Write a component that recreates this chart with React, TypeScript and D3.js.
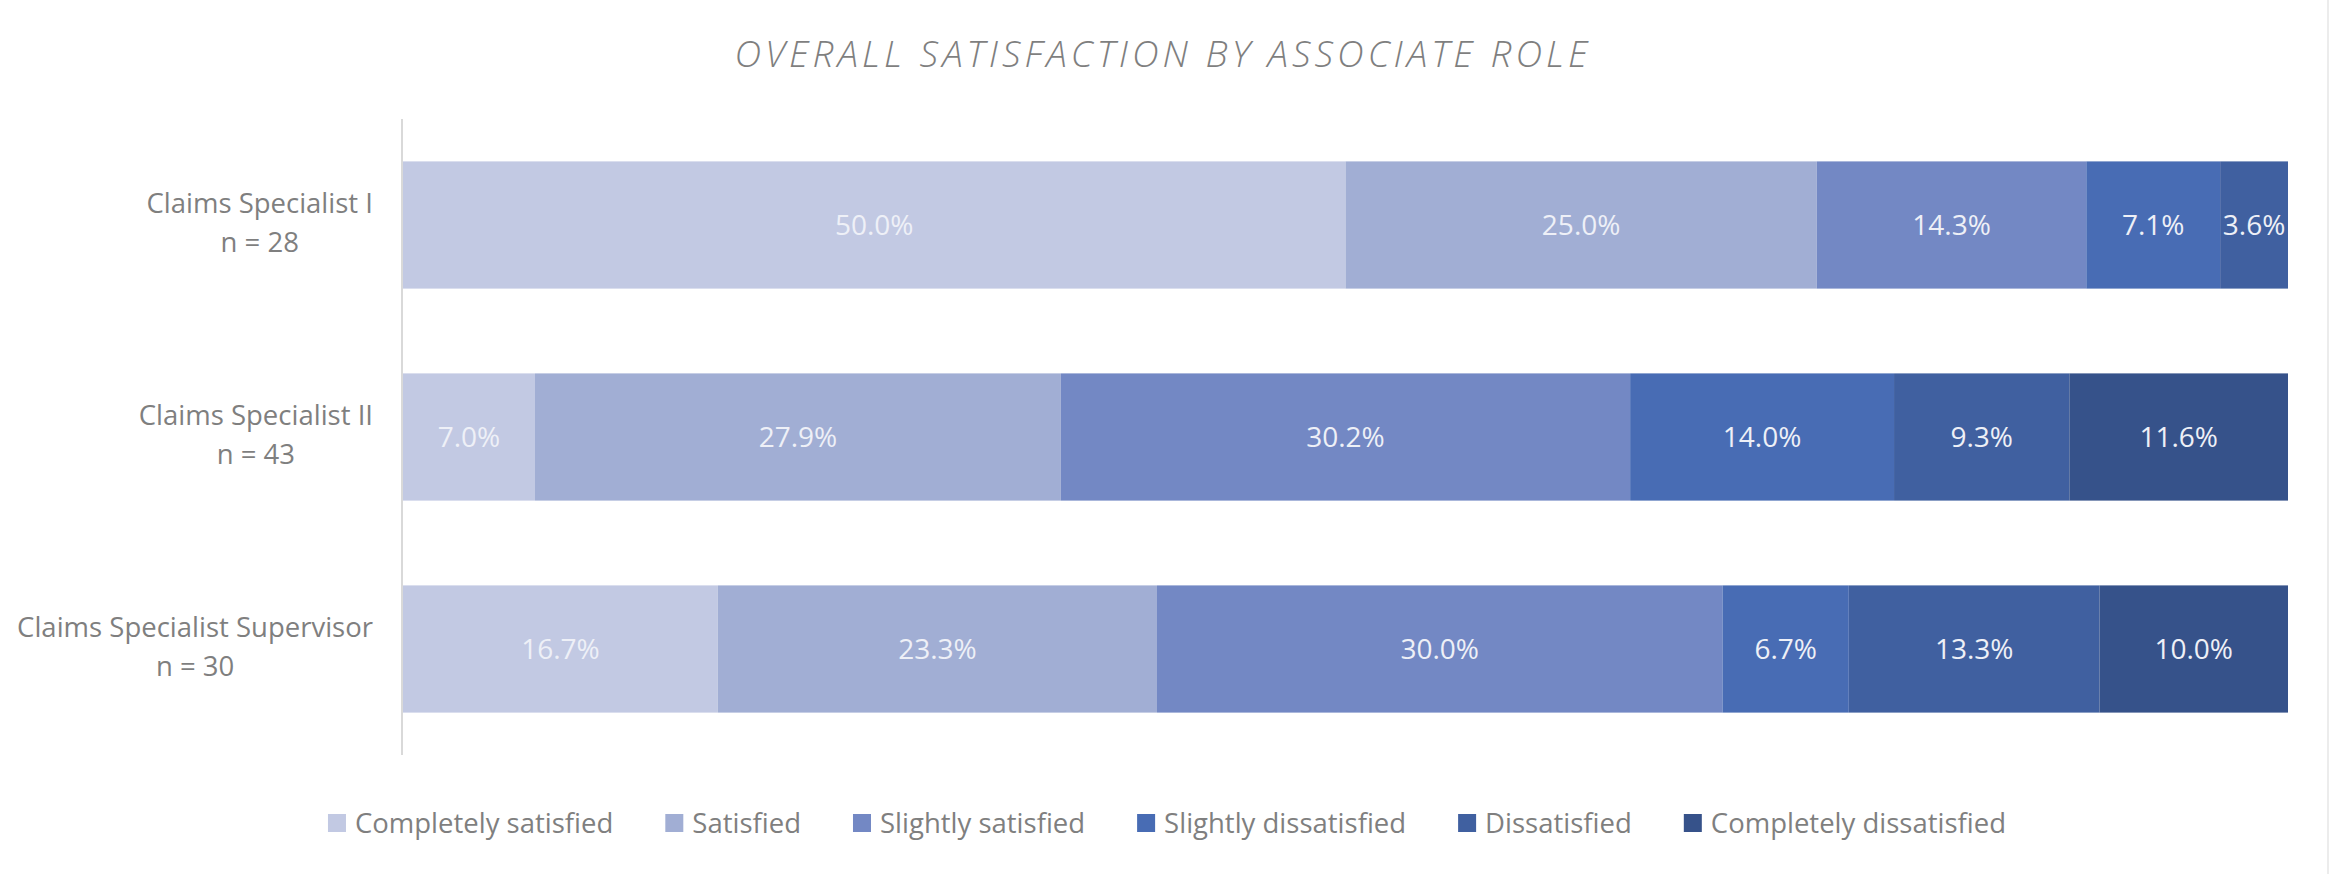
import React, { useEffect, useRef } from "react";
import * as d3 from "d3";

const categories = ["Claims Specialist I", "Claims Specialist II", "Claims Specialist Supervisor"];
const sampleSizes = [28, 43, 30];
const levels = [
  "Completely satisfied",
  "Satisfied",
  "Slightly satisfied",
  "Slightly dissatisfied",
  "Dissatisfied",
  "Completely dissatisfied",
];
const completelySatisfied = [50.0, 7.0, 16.7];
const satisfied = [25.0, 27.9, 23.3];
const slightlySatisfied = [14.3, 30.2, 30.0];
const slightlyDissatisfied = [7.1, 14.0, 6.7];
const dissatisfied = [3.6, 9.3, 13.3];
const completelyDissatisfied = [0, 11.6, 10.0];
const levelColors = ["#c2c9e3", "#a1aed4", "#7388c4", "#486cb4", "#4060a0", "#36528a"];

const seriesValues = [
  completelySatisfied,
  satisfied,
  slightlySatisfied,
  slightlyDissatisfied,
  dissatisfied,
  completelyDissatisfied,
];

const App: React.FC = () => {
  const svgRef = useRef<SVGSVGElement | null>(null);

  useEffect(() => {
    document.body.style.margin = "0";
    if (!svgRef.current) return;
    const svg = d3.select(svgRef.current);
    svg.selectAll("*").remove();

    const width = 2330;
    const height = 874;
    const font = "'Open Sans', 'DejaVu Sans', sans-serif";
    const margin = { top: 119, right: 42, bottom: 119, left: 403 };

    // rows for the stack
    const rows = categories.map((c, i) => {
      const r: Record<string, number | string> = { category: c };
      levels.forEach((l, j) => (r[l] = seriesValues[j][i]));
      return r;
    });

    const stack = d3.stack<Record<string, number | string>>()
      .keys(levels)
      .value((d, key) => d[key] as number);
    const stacked = stack(rows);

    const x = d3.scaleLinear().domain([0, 100]).range([margin.left, width - margin.right]);
    const y = d3.scaleBand<string>()
      .domain(categories)
      .range([margin.top, height - margin.bottom])
      .paddingInner(0.4)
      .paddingOuter(0.2);
    const color = d3.scaleOrdinal<string, string>().domain(levels).range(levelColors);

    svg.append("rect").attr("width", width).attr("height", height).attr("fill", "#fff");

    // right frame edge
    svg.append("line")
      .attr("x1", width - 2).attr("x2", width - 2)
      .attr("y1", 0).attr("y2", height)
      .attr("stroke", "#ececec").attr("stroke-width", 2);

    // title
    svg.append("text")
      .attr("x", 1163)
      .attr("y", 67)
      .attr("text-anchor", "middle")
      .style("font-family", font)
      .style("font-style", "italic")
      .style("font-weight", 300)
      .style("font-size", "37px")
      .style("letter-spacing", "4px")
      .style("fill", "#7f7f7f")
      .text("OVERALL SATISFACTION BY ASSOCIATE ROLE");

    // bars
    const groups = svg.append("g")
      .selectAll("g")
      .data(stacked)
      .join("g")
      .attr("fill", d => color(d.key));

    groups.selectAll("rect")
      .data(d => d.map(p => ({ p, key: d.key })))
      .join("rect")
      .attr("x", d => x(d.p[0]))
      .attr("y", d => y(d.p.data.category as string)!)
      .attr("width", d => x(d.p[1]) - x(d.p[0]))
      .attr("height", y.bandwidth());

    // data labels
    const labels = svg.append("g");
    stacked.forEach(s => {
      s.forEach(p => {
        const v = p[1] - p[0];
        if (v <= 0) return;
        labels.append("text")
          .attr("x", (x(p[0]) + x(p[1])) / 2)
          .attr("y", y(p.data.category as string)! + y.bandwidth() / 2)
          .attr("dy", "0.35em")
          .attr("text-anchor", "middle")
          .style("font-family", font)
          .style("font-size", "28px")
          .style("fill", "#eef0f7")
          .text(`${v.toFixed(1)}%`);
      });
    });

    // y axis line
    svg.append("line")
      .attr("x1", margin.left - 1).attr("x2", margin.left - 1)
      .attr("y1", margin.top).attr("y2", height - margin.bottom)
      .attr("stroke", "#d9d9d9").attr("stroke-width", 2);

    // category labels, two centered lines, right edge at x = 373
    categories.forEach((c, i) => {
      const cy = y(c)! + y.bandwidth() / 2;
      const g = svg.append("g");
      const t1 = g.append("text")
        .attr("y", cy - 12)
        .attr("text-anchor", "middle")
        .style("font-family", font)
        .style("font-size", "27.5px")
        .style("fill", "#7f7f7f")
        .text(c);
      const t2 = g.append("text")
        .attr("y", cy + 27)
        .attr("text-anchor", "middle")
        .style("font-family", font)
        .style("font-size", "27.5px")
        .style("fill", "#7f7f7f")
        .text(`n = ${sampleSizes[i]}`);
      const w = Math.max(
        (t1.node() as SVGTextElement).getComputedTextLength(),
        (t2.node() as SVGTextElement).getComputedTextLength()
      );
      const cx = 373 - w / 2;
      t1.attr("x", cx);
      t2.attr("x", cx);
    });

    // legend
    const legend = svg.append("g");
    const swatch = 18;
    const swatchGap = 9;
    const itemGap = 52;
    let cursor = 0;
    const items: { g: d3.Selection<SVGGElement, unknown, null, undefined>; w: number }[] = [];
    levels.forEach(l => {
      const g = legend.append("g");
      g.append("rect")
        .attr("x", 0).attr("y", -swatch / 2)
        .attr("width", swatch).attr("height", swatch)
        .attr("fill", color(l));
      const t = g.append("text")
        .attr("x", swatch + swatchGap)
        .attr("dy", "0.35em")
        .style("font-family", font)
        .style("font-size", "27.5px")
        .style("fill", "#7f7f7f")
        .text(l);
      const w = swatch + swatchGap + (t.node() as SVGTextElement).getComputedTextLength();
      items.push({ g, w });
    });
    items.forEach(it => {
      it.g.attr("transform", `translate(${cursor},0)`);
      cursor += it.w + itemGap;
    });
    const total = cursor - itemGap;
    legend.attr("transform", `translate(${1167 - total / 2},${823})`);
  }, []);

  return <svg ref={svgRef} width={2330} height={874} style={{ display: "block" }} />;
};

export default App;
